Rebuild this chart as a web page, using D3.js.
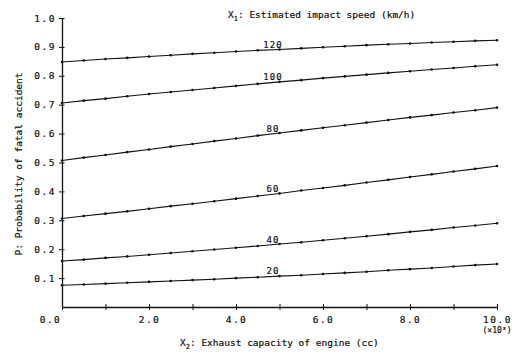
<!DOCTYPE html>
<html>
<head>
<meta charset="utf-8">
<script src="https://cdn.jsdelivr.net/npm/d3@7"></script>
<style>
  body { margin: 0; background: #fff; }
  text { font-family: "DejaVu Sans Mono", "Liberation Mono", monospace; fill: #111; stroke: #111; stroke-width: 0.2px; }
</style>
</head>
<body>
<svg id="chart"></svg>
<script>
//x2 values (x 1000 cc), one dot every 0.5
const capacity = [0, 0.5, 1, 1.5, 2, 2.5, 3, 3.5, 4, 4.5, 5, 5.5, 6, 6.5, 7, 7.5, 8, 8.5, 9, 9.5, 10]

//speed labels for each curve
const speeds = ["20", "40", "60", "80", "100", "120"]

//probability
const p20 = [0.075, 0.078, 0.081, 0.084, 0.087, 0.090, 0.093, 0.096, 0.100, 0.103, 0.107, 0.110, 0.114, 0.118, 0.122, 0.127, 0.131, 0.135, 0.140, 0.145, 0.149]
const p40 = [0.159, 0.164, 0.170, 0.175, 0.181, 0.187, 0.193, 0.199, 0.205, 0.211, 0.218, 0.224, 0.231, 0.238, 0.245, 0.252, 0.260, 0.267, 0.275, 0.282, 0.290]
const p60 = [0.306, 0.315, 0.323, 0.331, 0.340, 0.349, 0.357, 0.366, 0.375, 0.384, 0.393, 0.403, 0.412, 0.421, 0.431, 0.440, 0.450, 0.459, 0.469, 0.478, 0.488]
const p80 = [0.507, 0.517, 0.526, 0.536, 0.545, 0.555, 0.564, 0.574, 0.583, 0.593, 0.602, 0.611, 0.620, 0.629, 0.638, 0.647, 0.656, 0.664, 0.673, 0.681, 0.690]
const p100 = [0.706, 0.714, 0.721, 0.729, 0.737, 0.744, 0.751, 0.758, 0.765, 0.772, 0.779, 0.785, 0.792, 0.798, 0.804, 0.810, 0.816, 0.822, 0.827, 0.833, 0.838]
const p120 = [0.848, 0.853, 0.858, 0.862, 0.867, 0.871, 0.876, 0.880, 0.884, 0.888, 0.891, 0.895, 0.899, 0.902, 0.906, 0.909, 0.912, 0.915, 0.918, 0.921, 0.923]

const curves = [p20, p40, p60, p80, p100, p120]

//tick values
const yTicks = [0.1, 0.2, 0.3, 0.4, 0.5, 0.6, 0.7, 0.8, 0.9, 1.0]
const xTicks = [0, 1, 2, 3, 4, 5, 6, 7, 8, 9, 10]
const xLabelled = [2, 4, 6, 8, 10]

//where the speed labels sit along x
const labelAt = 4.85

const svgWidth = 519
const svgHeight = 355

const svg = d3.select('#chart')
    .attr('width', svgWidth)
    .attr('height', svgHeight)

const x = d3.scaleLinear().domain([0, 10]).range([62, 497])
const y = d3.scaleLinear().domain([0, 1]).range([307, 18])

//y axis, ticks go through the line
const yAxis = svg.append('g')
    .attr('transform', `translate(${x(0)},0)`)
    .call(d3.axisLeft(y)
        .tickValues(yTicks)
        .tickFormat(d => d.toFixed(1))
        .tickSize(3)
        .tickSizeOuter(0)
        .tickPadding(3))

yAxis.selectAll('.tick line').attr('x1', 2.5)
yAxis.select('.domain').attr('stroke', '#111').attr('stroke-width', 1.3)
yAxis.selectAll('text')
    .attr('font-size', 9.5)
    .style('letter-spacing', '1.5px')
    .attr('font-family', null)

//x axis
const xAxis = svg.append('g')
    .attr('transform', `translate(0,${y(0)})`)
    .call(d3.axisBottom(x)
        .tickValues(xTicks)
        .tickFormat(d => (xLabelled.includes(d) || d === 0) ? d.toFixed(1) : '')
        .tickSize(3)
        .tickSizeOuter(0)
        .tickPadding(6))

xAxis.selectAll('.tick line').attr('y1', -3)
xAxis.select('.domain').attr('stroke', '#111').attr('stroke-width', 1.3)
xAxis.selectAll('text')
    .attr('font-size', 9.5)
    .style('letter-spacing', '1.5px')
    .attr('font-family', null)

//origin label sits left of the corner
xAxis.selectAll('.tick')
    .filter(d => d === 0)
    .select('text')
    .attr('dx', -12)

svg.selectAll('.tick line').attr('stroke', '#111')

//(x10^3) under the last tick
svg.append('text')
    .attr('x', x(10))
    .attr('y', 333)
    .attr('text-anchor', 'middle')
    .attr('font-size', 8)
    .text('(×10³)')

//curves
const line = d3.line()
    .x((d, i) => x(capacity[i]))
    .y(d => y(d))

svg.selectAll('.curve')
    .data(curves)
    .enter()
    .append('path')
    .attr('class', 'curve')
    .attr('d', line)
    .attr('fill', 'none')
    .attr('stroke', '#111')
    .attr('stroke-width', 1.1)

//dots on each curve
curves.forEach(function(c) {
    svg.selectAll(null)
        .data(c)
        .enter()
        .append('circle')
        .attr('cx', (d, i) => x(capacity[i]))
        .attr('cy', d => y(d))
        .attr('r', 1.3)
        .attr('fill', '#111')
})

//speed labels just above each curve
const idx = capacity.indexOf(5)
speeds.forEach(function(s, k) {
    const v = curves[k][idx - 1] + (curves[k][idx] - curves[k][idx - 1]) * (labelAt - capacity[idx - 1]) / 0.5
    svg.append('text')
        .attr('x', x(labelAt))
        .attr('y', y(v) - 2)
        .attr('text-anchor', 'middle')
        .attr('font-size', 9)
        .style('letter-spacing', '1px')
        .text(s)
})

//title for the curves
const t1 = svg.append('text')
    .attr('x', 228)
    .attr('y', 18)
    .attr('font-size', 9.5)
t1.append('tspan').text('X')
t1.append('tspan').attr('dy', 3).attr('font-size', 7).text('1')
t1.append('tspan').attr('dy', -3).text(': Estimated impact speed (km/h)')

//x axis title
const t2 = svg.append('text')
    .attr('x', 180)
    .attr('y', 346)
    .attr('font-size', 9.5)
t2.append('tspan').text('X')
t2.append('tspan').attr('dy', 3).attr('font-size', 7).text('2')
t2.append('tspan').attr('dy', -3).text(': Exhaust capacity of engine (cc)')

//y axis title
svg.append('text')
    .attr('transform', 'translate(22,164) rotate(-90)')
    .attr('text-anchor', 'middle')
    .attr('font-size', 9.5)
    .text('P: Probability of fatal accident')
</script>
</body>
</html>
